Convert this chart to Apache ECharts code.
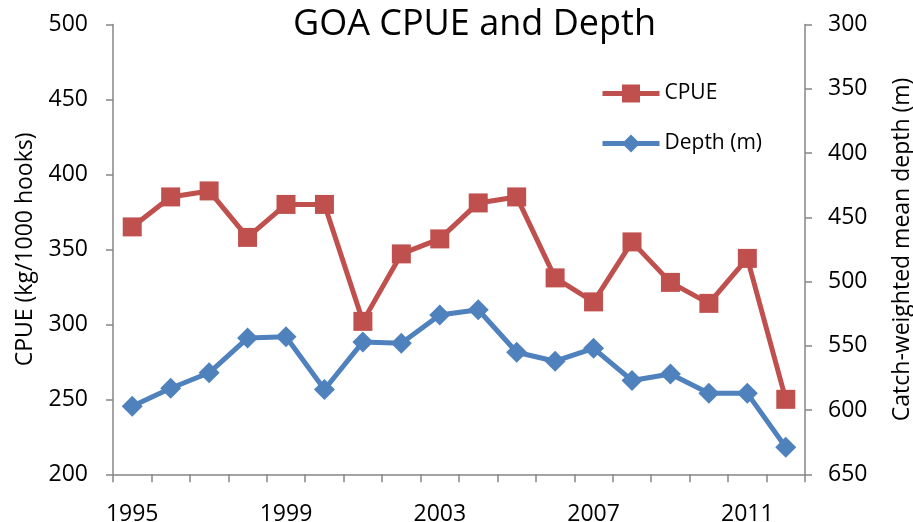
<!DOCTYPE html>
<html>
<head>
<meta charset="utf-8">
<script src="https://cdn.jsdelivr.net/npm/echarts@6/dist/echarts.min.js"></script>
<style>html,body{margin:0;padding:0;background:#fff}#c{width:913px;height:522px}</style>
</head>
<body>
<div id="c"></div>
<script>
const years = ['1995','1996','1997','1998','1999','2000','2001','2002','2003','2004','2005','2006','2007','2008','2009','2010','2011','2012'];
const cpue = [365, 385, 389, 358, 380, 380, 302, 347, 357, 381, 385, 331, 315, 355, 328, 314, 344, 250];
const depth = [597, 583, 571, 544, 543, 584, 547, 548, 526, 522, 555, 562, 552, 577, 572, 587, 587, 629];
const cpueTicks = [200, 500, 50];
const depthTicks = [300, 650, 50];

const FONT = 'Open Sans';
const AXIS_COLOR = '#868686';
const chart = echarts.init(document.getElementById('c'), null, {renderer: 'canvas'});
chart.setOption({
  animation: false,
  backgroundColor: '#ffffff',
  title: {
    text: 'GOA CPUE and Depth',
    left: 293,
    top: 7,
    padding: 0,
    textStyle: {fontFamily: FONT, fontSize: 36, fontWeight: 'normal', color: '#000'}
  },
  legend: {
    orient: 'vertical',
    left: 600,
    top: 83,
    padding: 0,
    itemWidth: 57,
    itemHeight: 22.5,
    itemGap: 29,
    lineStyle: {width: 5},
    textStyle: {fontFamily: FONT, fontSize: 21, color: '#000'},
    data: ['CPUE', 'Depth (m)']
  },
  grid: {left: 113, right: 108, top: 24.5, bottom: 47.7, containLabel: false, outerBoundsMode: 'none'},
  xAxis: {
    type: 'category',
    data: years,
    boundaryGap: true,
    axisLine: {lineStyle: {color: AXIS_COLOR, width: 1.5}},
    axisTick: {show: true, interval: 0, length: 8, lineStyle: {color: AXIS_COLOR, width: 1.5}},
    axisLabel: {interval: 3, margin: 29, fontFamily: FONT, fontSize: 23, color: '#000'},
    splitLine: {show: false}
  },
  yAxis: [{
    type: 'value',
    min: cpueTicks[0], max: cpueTicks[1], interval: cpueTicks[2],
    name: 'CPUE (kg/1000 hooks)',
    nameLocation: 'middle',
    nameGap: 76,
    nameTextStyle: {fontFamily: FONT, fontSize: 23, color: '#000'},
    axisLine: {show: true, lineStyle: {color: AXIS_COLOR, width: 1.5}},
    axisTick: {show: true, length: 7, lineStyle: {color: AXIS_COLOR, width: 1.5}},
    axisLabel: {margin: 25, fontFamily: FONT, fontSize: 23, color: '#000'},
    splitLine: {show: false}
  }, {
    type: 'value',
    position: 'right',
    inverse: true,
    min: depthTicks[0], max: depthTicks[1], interval: depthTicks[2],
    name: 'Catch-weighted mean depth (m)',
    nameLocation: 'middle',
    nameGap: 86,
    nameTextStyle: {fontFamily: FONT, fontSize: 23, color: '#000'},
    axisLine: {show: true, lineStyle: {color: AXIS_COLOR, width: 1.5}},
    axisTick: {show: true, length: 7, lineStyle: {color: AXIS_COLOR, width: 1.5}},
    axisLabel: {margin: 23, fontFamily: FONT, fontSize: 23, color: '#000'},
    splitLine: {show: false}
  }],
  series: [{
    name: 'CPUE',
    type: 'line',
    yAxisIndex: 0,
    data: cpue,
    symbol: 'rect',
    symbolSize: 19,
    lineStyle: {color: '#C0504D', width: 5},
    itemStyle: {color: '#C0504D'}
  }, {
    name: 'Depth (m)',
    type: 'line',
    yAxisIndex: 1,
    data: depth,
    symbol: 'diamond',
    symbolSize: 21,
    lineStyle: {color: '#4F81BD', width: 5},
    itemStyle: {color: '#4F81BD'}
  }]
});
</script>
</body>
</html>
